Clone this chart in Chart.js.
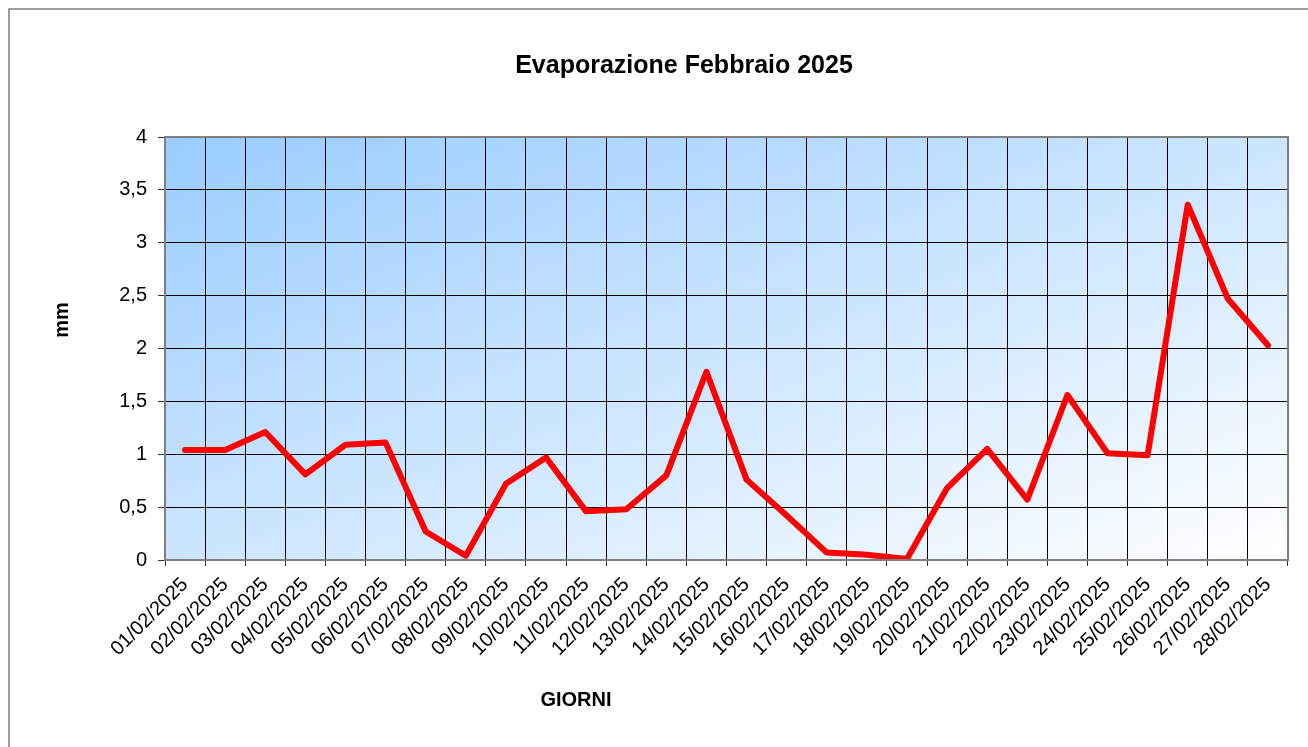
<!DOCTYPE html>
<html>
<head>
<meta charset="utf-8">
<script src="https://cdn.jsdelivr.net/npm/chart.js@4.4.1/dist/chart.umd.min.js"></script>
<style>
  html, body { margin: 0; padding: 0; background: #fff; }
  canvas { display: block; }
</style>
</head>
<body>
<canvas id="evap" width="1308" height="747"></canvas>
<script>
// giorni di febbraio 2025
const giorni = [
  "01/02/2025", "02/02/2025", "03/02/2025", "04/02/2025", "05/02/2025", "06/02/2025", "07/02/2025",
  "08/02/2025", "09/02/2025", "10/02/2025", "11/02/2025", "12/02/2025", "13/02/2025", "14/02/2025",
  "15/02/2025", "16/02/2025", "17/02/2025", "18/02/2025", "19/02/2025", "20/02/2025", "21/02/2025",
  "22/02/2025", "23/02/2025", "24/02/2025", "25/02/2025", "26/02/2025", "27/02/2025", "28/02/2025"
];
// evaporazione giornaliera (mm)
const evaporazione = [
  1.04, 1.04, 1.21, 0.81, 1.09, 1.11, 0.27,
  0.04, 0.72, 0.97, 0.46, 0.48, 0.80, 1.78,
  0.76, 0.42, 0.07, 0.05, 0.01, 0.68, 1.05,
  0.57, 1.56, 1.01, 0.99, 3.36, 2.47, 2.03
];
const yMin = 0;
const yMax = 4;
const yStep = 0.5;

const titolo = "Evaporazione Febbraio 2025";
const titoloY = "mm";
const titoloX = "GIORNI";

const FONT = "'Liberation Sans', Arial, Helvetica, sans-serif";
Chart.defaults.font.family = FONT;
Chart.defaults.color = "#000";

// sfondo sfumato, cornice e testi
const decorations = {
  id: "decorations",
  beforeDraw(chart) {
    const ctx = chart.ctx;
    const a = chart.chartArea;
    ctx.save();
    ctx.fillStyle = "#fff";
    ctx.fillRect(0, 0, chart.width, chart.height);
    ctx.strokeStyle = "#7f7f7f";
    ctx.lineWidth = 1.5;
    ctx.strokeRect(9, 9, 3000, 3000);
    const w = a.right - a.left, h = a.bottom - a.top;
    const k = (2 * w * h) / (w * w + h * h);
    const grad = ctx.createLinearGradient(a.left, a.top, a.left + k * h, a.top + k * w);
    grad.addColorStop(0, "#99ccff");
    grad.addColorStop(1, "#ffffff");
    ctx.fillStyle = grad;
    ctx.fillRect(a.left, a.top, w, h);
    ctx.restore();
  },
  afterDraw(chart) {
    const ctx = chart.ctx;
    const a = chart.chartArea;
    ctx.save();
    ctx.strokeStyle = "#808080";
    ctx.lineWidth = 2;
    ctx.strokeRect(a.left, a.top, a.right - a.left, a.bottom - a.top);

    ctx.fillStyle = "#000";
    ctx.textAlign = "center";
    ctx.textBaseline = "middle";
    ctx.font = "bold 25px " + FONT;
    ctx.fillText(titolo, 684, 66);
    ctx.font = "bold 20px " + FONT;
    ctx.fillText(titoloX, 576, 700);
    ctx.translate(62, 320);
    ctx.rotate(-Math.PI / 2);
    ctx.fillText(titoloY, 0, 0);
    ctx.restore();
  }
};

new Chart(document.getElementById("evap"), {
  type: "line",
  data: {
    labels: giorni,
    datasets: [{
      data: evaporazione,
      borderColor: "#ff0000",
      borderWidth: 6,
      borderCapStyle: "round",
      borderJoinStyle: "round",
      pointRadius: 0,
      tension: 0,
      fill: false
    }]
  },
  options: {
    responsive: false,
    animation: false,
    devicePixelRatio: 1,
    layout: { padding: { top: 137, right: 20, left: 0, bottom: 0 } },
    plugins: {
      legend: { display: false },
      title: { display: false },
      tooltip: { enabled: false }
    },
    scales: {
      x: {
        type: "category",
        offset: true,
        grid: { offset: true, color: "#000", lineWidth: 1, tickLength: 6, tickColor: "#333" },
        border: { color: "#808080", width: 2 },
        ticks: {
          autoSkip: false,
          minRotation: 45,
          maxRotation: 45,
          padding: 7,
          font: { size: 20 },
          color: "#000"
        },
        afterFit(s) { s.height = 187; }
      },
      y: {
        min: yMin,
        max: yMax,
        grid: { color: "#000", lineWidth: 1, tickLength: 7, tickColor: "#333" },
        border: { color: "#808080", width: 2 },
        ticks: {
          stepSize: yStep,
          padding: 11,
          font: { size: 20 },
          color: "#000",
          callback: (v) => String(v).replace(".", ",")
        },
        afterFit(s) { s.width = 165; }
      }
    }
  },
  plugins: [decorations]
});
</script>
</body>
</html>
